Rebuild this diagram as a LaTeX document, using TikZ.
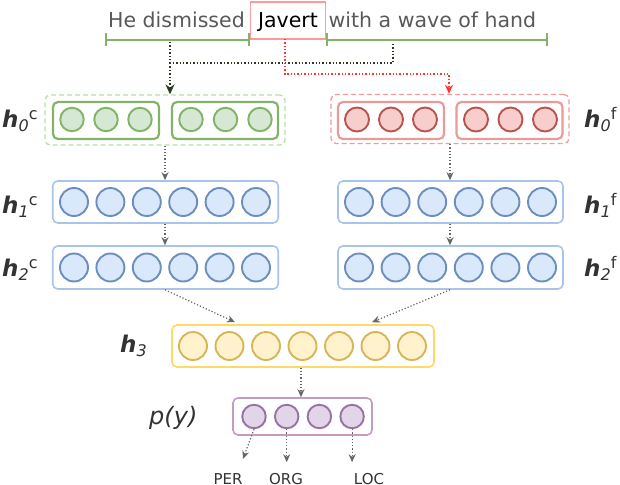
\documentclass[tikz,border=0pt]{standalone}
\usepackage{fontspec}
\setmainfont{DejaVu Sans}
\usetikzlibrary{arrows.meta,calc}
\definecolor{gfill}{HTML}{D5E8D4}
\definecolor{gline}{HTML}{82B366}
\definecolor{gdash}{HTML}{B9E0A5}
\definecolor{rfill}{HTML}{F8CECC}
\definecolor{rline}{HTML}{B85450}
\definecolor{rbox}{HTML}{EA9A97}
\definecolor{rdash}{HTML}{F19C99}
\definecolor{bfill}{HTML}{DAE8FC}
\definecolor{bline}{HTML}{6C8EBF}
\definecolor{bbox}{HTML}{A9C4EB}
\definecolor{yfill}{HTML}{FFF2CC}
\definecolor{yline}{HTML}{D6B656}
\definecolor{ybox}{HTML}{FFD966}
\definecolor{pfill}{HTML}{E1D5E7}
\definecolor{pline}{HTML}{9673A6}
\definecolor{pbox}{HTML}{C39BC3}
\definecolor{txtgray}{HTML}{595959}
\definecolor{lblgray}{HTML}{333333}
\definecolor{arrgray}{HTML}{666666}
\definecolor{darkarr}{HTML}{2A3A22}
\definecolor{redarr}{HTML}{FF3333}
\definecolor{javbox}{HTML}{FF9999}
\tikzset{
  cell/.style={circle, inner sep=0pt, line width=1.9pt},
  gcell/.style={cell, draw=gline, fill=gfill, minimum size=23.5pt},
  rcell/.style={cell, draw=rline, fill=rfill, minimum size=24pt},
  bcell/.style={cell, draw=bline, fill=bfill, minimum size=28pt},
  ycell/.style={cell, draw=yline, fill=yfill, minimum size=28pt},
  pcell/.style={cell, draw=pline, fill=pfill, minimum size=23.5pt},
  layer/.style={rectangle, rounded corners=5pt, inner sep=0pt, line width=1.6pt},
  grp/.style={layer, dashed, dash pattern=on 5pt off 3pt, line width=1.3pt},
  flow/.style={draw=arrgray, dotted, line width=1.2pt, -{Stealth[length=8pt,width=7pt]}},
  hlabel/.style={anchor=base west, text=lblgray, inner sep=0pt},
  outlabel/.style={anchor=base, text=lblgray, inner sep=0pt, font=\fontsize{15}{18}\selectfont},
  span/.style={draw=gline, line width=1.8pt},
}
\newcommand{\hbig}{{\fontsize{23}{26}\selectfont\bfseries\itshape h}}
\newcommand{\hlab}[2]{\hbig\raisebox{-4pt}{\fontsize{16}{16}\selectfont\itshape #1}\raisebox{8pt}{\fontsize{16}{16}\selectfont #2}}
\begin{document}
\begin{tikzpicture}[x=1pt,y=-1pt]
\useasboundingbox (0,0) rectangle (620,484);

% sentence
\node[draw=javbox, line width=1.7pt, minimum width=75pt, minimum height=37pt, inner sep=0pt] (jav) at (288,20.3) {};
\node[anchor=base, inner sep=0pt, font=\fontsize{20.5}{24}\selectfont, text=black] (javt) at (288,28) {Javert};
\node[anchor=base west, inner sep=0pt, font=\fontsize{20.5}{24}\selectfont, text=txtgray] (s1) at (108,28) {He dismissed};
\node[anchor=base west, inner sep=0pt, font=\fontsize{20.5}{24}\selectfont, text=txtgray] (s2) at (328.5,28) {with a wave of hand};

% spans
\coordinate (spA) at (106,40);
\coordinate (spB) at (249,40);
\coordinate (spC) at (327,40);
\coordinate (spD) at (547,40);
\draw[span] (spA) -- (spB);
\draw[span] (spC) -- (spD);
\foreach \p in {spA,spB,spC,spD} \draw[span] ($(\p)+(0,-7)$) -- ($(\p)+(0,6)$);

% layer 0 context (green)
\node[grp, draw=gdash, minimum width=240pt, minimum height=50pt] (g0) at (165,120) {};
\node[layer, draw=gline, line width=2.2pt, minimum width=106pt, minimum height=37pt] (g0L) at (106,120.5) {};
\node[layer, draw=gline, line width=2.2pt, minimum width=106pt, minimum height=37pt] (g0R) at (225,120.5) {};
\foreach \i in {0,1,2} {
  \node[gcell] (gl\i) at ({72+34*\i},119.5) {};
  \node[gcell] (gr\i) at ({191+34.5*\i},119.5) {};
}
% layer 0 focus (red)
\node[grp, draw=rdash, minimum width=238pt, minimum height=49pt] (r0) at (450,119) {};
\node[layer, draw=rbox, line width=2.2pt, minimum width=106pt, minimum height=37pt] (r0L) at (391,120.5) {};
\node[layer, draw=rbox, line width=2.2pt, minimum width=106pt, minimum height=37pt] (r0R) at (509.5,120.5) {};
\foreach \i in {0,1,2} {
  \node[rcell] (rl\i) at ({357+34*\i},119.5) {};
  \node[rcell] (rr\i) at ({476+34.5*\i},119.5) {};
}

% h1, h2 (blue)
\node[layer, draw=bbox, minimum width=225.5pt, minimum height=42pt] (h1c) at (165.5,202) {};
\node[layer, draw=bbox, minimum width=225pt, minimum height=42pt] (h1f) at (450.5,202) {};
\node[layer, draw=bbox, minimum width=225.5pt, minimum height=43pt] (h2c) at (165.5,267.5) {};
\node[layer, draw=bbox, minimum width=225pt, minimum height=43pt] (h2f) at (450.5,267.5) {};
\foreach \i in {0,...,5} {
  \node[bcell] (a\i) at ({74+36.4*\i},202) {};
  \node[bcell] (b\i) at ({359+36.6*\i},202) {};
  \node[bcell] (c\i) at ({74+36.4*\i},267.5) {};
  \node[bcell] (d\i) at ({359+36.6*\i},267.5) {};
}

% h3 (yellow)
\node[layer, draw=ybox, minimum width=262pt, minimum height=42pt] (h3) at (303,346) {};
\foreach \i in {0,...,6} \node[ycell] (y\i) at ({193+36.5*\i},346) {};

% p(y) (purple)
\node[layer, draw=pbox, minimum width=139pt, minimum height=37pt] (py) at (302.5,416.5) {};
\foreach \i in {0,...,3} \node[pcell] (p\i) at ({254+32.7*\i},416.5) {};

% labels
\node[hlabel] (lh0c) at (2,127) {\hlab{0}{c}};
\node[hlabel] (lh1c) at (2,213) {\hlab{1}{c}};
\node[hlabel] (lh2c) at (2,276) {\hlab{2}{c}};
\node[hlabel] (lh0f) at (584,127) {\hlab{0}{f}};
\node[hlabel] (lh1f) at (584,213) {\hlab{1}{f}};
\node[hlabel] (lh2f) at (584,276) {\hlab{2}{f}};
\node[hlabel] (lh3) at (120,352) {\hbig\raisebox{-4pt}{\fontsize{16}{16}\selectfont\itshape 3}};
\node[hlabel, font=\fontsize{24}{26}\selectfont, text=lblgray] (lpy) at (149,424) {\itshape p(y)};

\node[outlabel] (per) at (228,484) {PER};
\node[outlabel] (org) at (286,484) {ORG};
\node[outlabel] (loc) at (369,484) {LOC};

% top connectors
\coordinate (dA) at (170,42);
\coordinate (dB) at (170,63);
\coordinate (dC) at (393,63);
\coordinate (dD) at (393,42);
\draw[draw=darkarr, dotted, line width=1.4pt] (dA) -- (dB) -- (dC) -- (dD);
\draw[draw=darkarr, dotted, line width=1.4pt, -{Stealth[length=10pt,width=9pt]}] (dB) -- (g0.north -| dB);
\coordinate (rA) at (285,38.8);
\coordinate (rB) at (285,74);
\coordinate (rC) at (449,74);
\draw[draw=redarr, dotted, line width=1.4pt, -{Stealth[length=9pt,width=8pt]}] (rA) -- (rB) -- (rC) -- (r0.north -| rC);

% layer connectors
\draw[flow] (g0.south) -- (g0.south |- h1c.north);
\draw[flow] (r0.south) -- (r0.south |- h1f.north);
\draw[flow] (g0.south |- h1c.south) -- (g0.south |- h2c.north);
\draw[flow] (r0.south |- h1f.south) -- (r0.south |- h2f.north);
\draw[flow] (g0.south |- h2c.south) -- ($(h3.north)+(-68,-2)$);
\draw[flow] (r0.south |- h2f.south) -- ($(h3.north)+(69,-2)$);
\draw[flow] ($(h3.south)+(-2,0)$) -- ($(py.north)+(-1.5,0)$);
\draw[flow] (p0.south) -- ($(per.north)+(15,-14)$);
\draw[flow] (p1.south) -- ($(p1.south)+(0,33)$);
\draw[flow] (p3.south) -- ($(p3.south)+(0,33)$);
\end{tikzpicture}
\end{document}
